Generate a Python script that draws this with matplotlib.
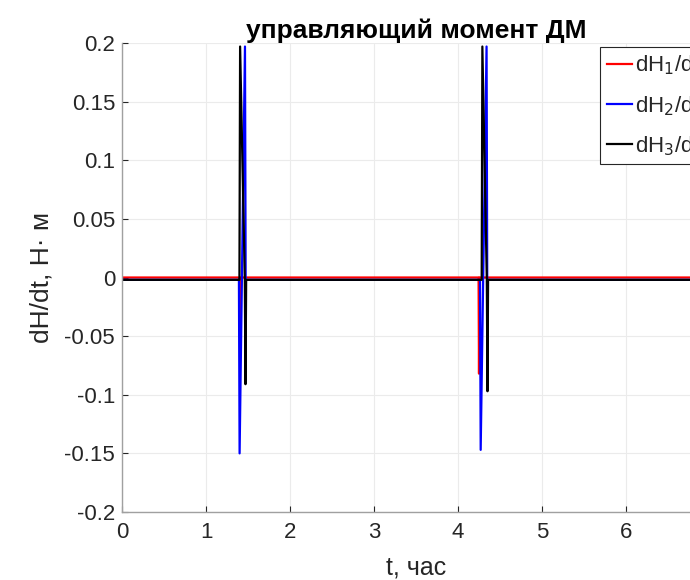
import matplotlib
matplotlib.use("Agg")
import matplotlib.pyplot as plt

plt.rcParams['font.family'] = ['Liberation Sans', 'DejaVu Sans']

# --- data (time in hours, values in N*m) ---
t_red = [0.0, 1.395, 1.400, 1.405, 4.245, 4.250, 4.255, 7.0]
v_red = [0.0, 0.0, -0.045, 0.0, 0.0, -0.082, 0.0, 0.0]

t_blue = [0.0, 1.392, 1.400, 1.464, 1.472, 4.262, 4.270, 4.340, 4.348, 7.0]
v_blue = [-0.002, -0.002, -0.150, 0.197, -0.002, -0.002, -0.147, 0.197, -0.002, -0.002]

t_black = [0.0, 1.398, 1.406, 1.462, 1.470, 1.478, 4.282, 4.290, 4.343, 4.351, 4.358, 7.0]
v_black = [-0.002, -0.002, 0.197, -0.002, -0.091, -0.002, -0.002, 0.197, -0.002, -0.097, -0.002, -0.002]

labels = ['dH$_1$/dt', 'dH$_2$/dt', 'dH$_3$/dt']
colors = ['#ff0000', '#0000ff', '#000000']
title = 'управляющий момент ДМ'
xlabel = 't, час'
ylabel = 'dH/dt, Н· м'
xticks = [0, 1, 2, 3, 4, 5, 6, 7]
yticks = [-0.2, -0.15, -0.1, -0.05, 0, 0.05, 0.1, 0.15, 0.2]
ytick_labels = ['-0.2', '-0.15', '-0.1', '-0.05', '0', '0.05', '0.1', '0.15', '0.2']

fig = plt.figure(figsize=(6.9, 5.8), dpi=100)
W, H = 690, 580
left, right, top, bottom = 122, 710, 43, 512
ax = fig.add_axes([left / W, 1 - bottom / H, (right - left) / W, (bottom - top) / H])

series = [(t_red, v_red), (t_blue, v_blue), (t_black, v_black)]
for (t, v), c, lab in zip(series, colors, labels):
    ax.plot(t, v, color=c, lw=1.6, label=lab)

ax.set_xlim(0, 7)
ax.set_ylim(-0.2, 0.2)
ax.set_xticks(xticks)
ax.set_xticklabels([str(x) for x in xticks])
ax.set_yticks(yticks)
ax.set_yticklabels(ytick_labels)
ax.tick_params(labelsize=16, direction='in', length=4, color='#262626', labelcolor='#262626')
ax.tick_params(axis='x', pad=7)
ax.tick_params(axis='y', pad=5)
ax.grid(True, color='#ebebeb', lw=0.8)
ax.set_axisbelow(True)
for s in ['top', 'right']:
    ax.spines[s].set_visible(False)
for s in ['left', 'bottom']:
    ax.spines[s].set_color('#a0a0a0')
    ax.spines[s].set_linewidth(1.0)

ax.set_title(title, fontsize=19, fontweight='bold', pad=3)
ax.set_xlabel(xlabel, fontsize=18, color='#262626', labelpad=9)
ax.set_ylabel(ylabel, fontsize=19, color='#262626', labelpad=8)

leg = fig.legend(loc='upper left', bbox_to_anchor=(600 / W, 1 - 47 / H),
                 fontsize=16, handlelength=1.15, handletextpad=0.12, labelspacing=0.75,
                 borderpad=0.3, borderaxespad=0, fancybox=False, framealpha=1,
                 edgecolor='#262626')
leg.get_frame().set_linewidth(0.8)
for txt in leg.get_texts():
    txt.set_color('#262626')

fig.savefig('out.png', dpi=100)
